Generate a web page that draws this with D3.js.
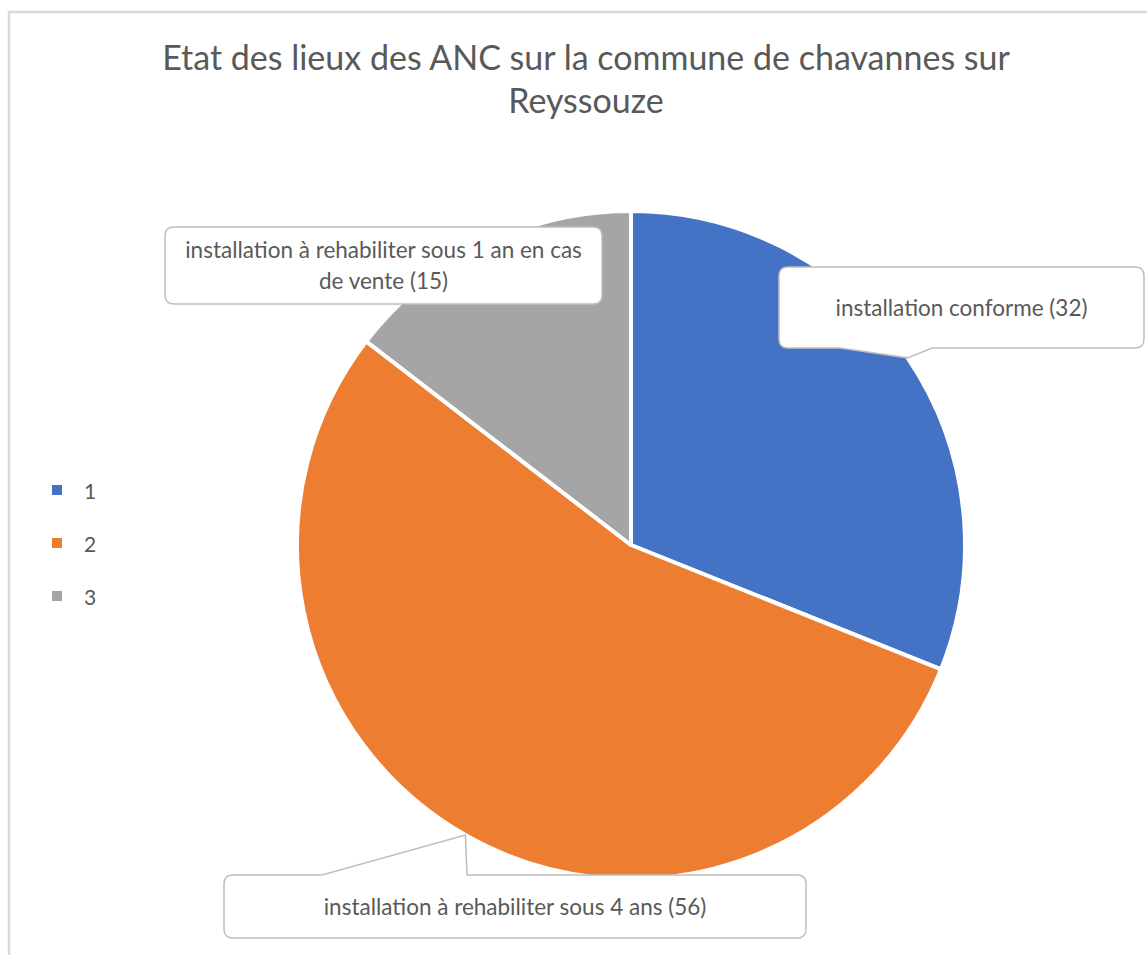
<!DOCTYPE html>
<html>
<head>
<meta charset="utf-8">
<script src="https://cdn.jsdelivr.net/npm/d3@7"></script>
<style>
  body { margin: 0; background: #fff; }
  text { font-family: Lato, "Open Sans", sans-serif; fill: #595959; }
</style>
</head>
<body>
<div id="chart"></div>
<script>
const categories = ["1", "2", "3"];
const values = [32, 56, 15];
const labels = [
    "installation conforme (32)",
    "installation à rehabiliter sous 4 ans (56)",
    "installation à rehabiliter sous 1 an en cas de vente (15)"
];
const colors = ["#4472C4", "#ED7D31", "#A5A5A5"];
const titleLines = ["Etat des lieux des ANC sur la commune de chavannes sur", "Reyssouze"];

// callout boxes (layout only)
const callouts = [
    {x: 779, y: 267, w: 365, h: 81, edge: "bottom", b1: 61, b2: 153, lines: ["installation conforme (32)"]},
    {x: 224, y: 875, w: 582, h: 63, edge: "top", b1: 98, b2: 243, lines: ["installation à rehabiliter sous 4 ans (56)"]},
    {x: 165, y: 227, w: 437, h: 77, edge: null, lines: ["installation à rehabiliter sous 1 an en cas", "de vente (15)"]}
];

const width = 1147, height = 955;
const cx = 631, cy = 545, radius = 334;

const svg = d3.select("#chart").append("svg")
    .attr("width", width)
    .attr("height", height);

// chart area border
svg.append("rect")
    .attr("x", 9).attr("y", 12)
    .attr("width", width + 20).attr("height", height + 20)
    .attr("fill", "#fff")
    .attr("stroke", "#d9d9d9")
    .attr("stroke-width", 2.5);

// title
svg.append("g").selectAll("text")
    .data(titleLines)
    .enter().append("text")
    .attr("x", 586)
    .attr("y", (d, i) => 70 + i * 43)
    .attr("text-anchor", "middle")
    .style("font-size", "34px")
    .text(d => d);

const pie = d3.pie().sort(null).value(d => d);
const arcs = pie(values);
const arc = d3.arc().innerRadius(0).outerRadius(radius);
const edgeArc = d3.arc().innerRadius(radius).outerRadius(radius);

const g = svg.append("g")
    .attr("transform", "translate(" + cx + "," + cy + ")");

g.selectAll("path")
    .data(arcs)
    .enter().append("path")
    .attr("d", arc)
    .attr("fill", (d, i) => colors[i])
    .attr("stroke", "#fff")
    .attr("stroke-width", 4)
    .attr("stroke-linejoin", "round");

// legend
const legend = svg.append("g").selectAll("g")
    .data(categories)
    .enter().append("g")
    .attr("transform", (d, i) => "translate(52," + (485 + i * 53) + ")");

legend.append("rect")
    .attr("width", 10).attr("height", 10)
    .attr("fill", (d, i) => colors[i]);

legend.append("text")
    .attr("x", 32).attr("y", 14)
    .style("font-size", "21px")
    .text(d => d);

function calloutPath(c, tip) {
    const r = 9;
    const x0 = c.x, y0 = c.y, x1 = c.x + c.w, y1 = c.y + c.h;
    let p = "M" + (x0 + r) + "," + y0;
    if (c.edge === "top") {
        p += "L" + (x0 + c.b1) + "," + y0 + "L" + tip[0] + "," + tip[1] + "L" + (x0 + c.b2) + "," + y0;
    }
    p += "L" + (x1 - r) + "," + y0 + "Q" + x1 + "," + y0 + " " + x1 + "," + (y0 + r);
    p += "L" + x1 + "," + (y1 - r) + "Q" + x1 + "," + y1 + " " + (x1 - r) + "," + y1;
    if (c.edge === "bottom") {
        p += "L" + (x0 + c.b2) + "," + y1 + "L" + tip[0] + "," + tip[1] + "L" + (x0 + c.b1) + "," + y1;
    }
    p += "L" + (x0 + r) + "," + y1 + "Q" + x0 + "," + y1 + " " + x0 + "," + (y1 - r);
    p += "L" + x0 + "," + (y0 + r) + "Q" + x0 + "," + y0 + " " + (x0 + r) + "," + y0 + "Z";
    return p;
}

const labelG = svg.append("g").selectAll("g")
    .data(callouts)
    .enter().append("g");

labelG.append("path")
    .attr("d", (c, i) => {
        const t = edgeArc.centroid(arcs[i]);
        return calloutPath(c, [cx + t[0], cy + t[1]]);
    })
    .attr("fill", "#fff")
    .attr("stroke", "#bfbfbf")
    .attr("stroke-width", 1.5);

labelG.each(function(c) {
    const n = c.lines.length;
    d3.select(this).selectAll("text.lbl")
        .data(c.lines)
        .enter().append("text")
        .attr("class", "lbl")
        .attr("x", c.x + c.w / 2)
        .attr("y", (d, i) => c.y + c.h / 2 + (i - (n - 1) / 2) * 31 + 8)
        .attr("text-anchor", "middle")
        .style("font-size", "22.5px")
        .text(d => d);
});
</script>
</body>
</html>
